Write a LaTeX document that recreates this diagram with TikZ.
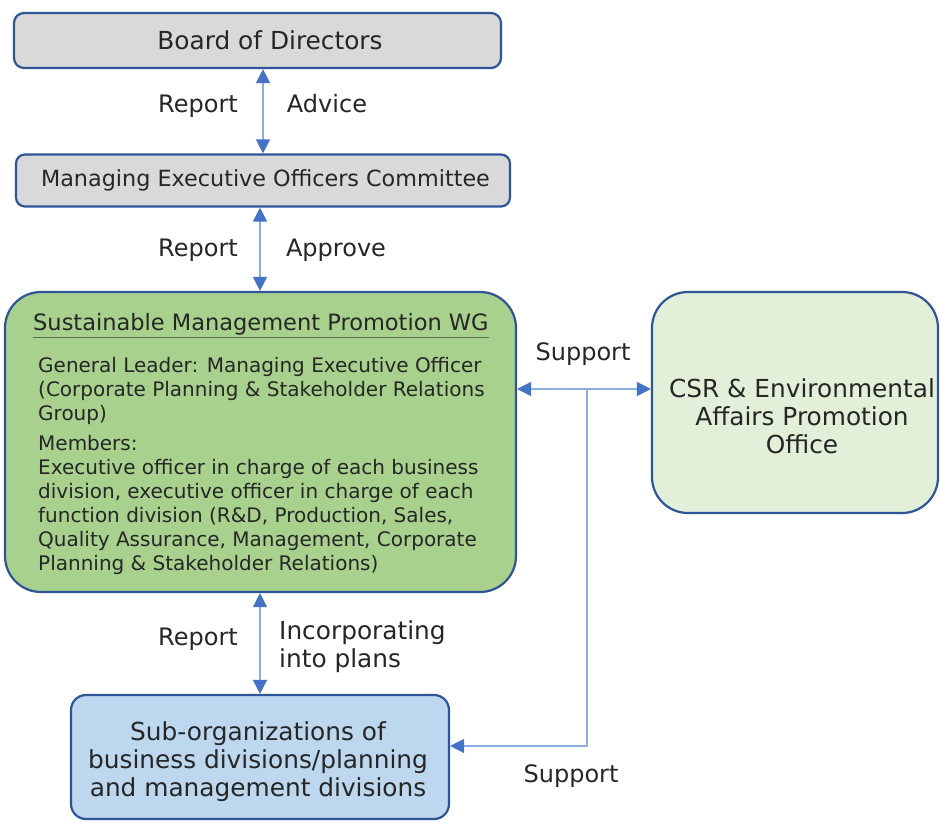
\documentclass[tikz,border=0pt]{standalone}
\usepackage{fontspec}
\setmainfont{DejaVu Sans}
\usetikzlibrary{arrows.meta}
\definecolor{bord}{HTML}{2F5597}
\definecolor{grayf}{HTML}{D9D9D9}
\definecolor{greenf}{HTML}{A9D18E}
\definecolor{lgreenf}{HTML}{E2F0D9}
\definecolor{bluef}{HTML}{BDD7EE}
\definecolor{lineblue}{HTML}{8AAEE3}
\definecolor{headblue}{HTML}{4472C4}
\definecolor{txt}{HTML}{262626}
\definecolor{ulcol}{HTML}{5B6B4E}
\tikzset{
  box/.style={draw=bord, line width=2.2pt, text=txt, inner sep=0pt},
  conn/.style={draw=lineblue, line width=1.4pt},
  biarr/.style={conn, {Triangle[length=14pt,width=14pt,color=headblue,fill=headblue]}-{Triangle[length=14pt,width=14pt,color=headblue,fill=headblue]}},
  onearr/.style={conn, -{Triangle[length=14pt,width=14pt,color=headblue,fill=headblue]}},
  lbl/.style={text=txt, inner sep=0pt, font=\fontsize{24}{28.5}\selectfont},
  body/.style={text=txt, inner sep=0pt, anchor=base west, font=\fontsize{20}{24}\selectfont},
}
\begin{document}
\begin{tikzpicture}[x=1pt,y=-1pt]
\useasboundingbox[fill=white] (0,0) rectangle (940,821);

% boxes
\node[box, fill=grayf, rounded corners=10pt, minimum width=487pt, minimum height=55pt,
      font=\fontsize{24.8}{28}\selectfont] (bod) at (257.5,40.5) {\hspace*{25pt}Board of Directors};
\node[box, fill=grayf, rounded corners=9pt, minimum width=494pt, minimum height=52pt,
      font=\fontsize{22.3}{26}\selectfont] (mec) at (263,180.5) {\hspace*{5pt}\raisebox{-2pt}{Managing Executive Officers Committee}};
\node[box, fill=greenf, rounded corners=36pt, minimum width=511pt, minimum height=300pt] (wg) at (260.5,442) {};
\node[box, fill=lgreenf, rounded corners=36pt, minimum width=286pt, minimum height=221pt] (csr) at (795,402.5) {};
\node[box, fill=bluef, rounded corners=15pt, minimum width=378pt, minimum height=124pt] (sub) at (260,757) {};

% texts in boxes
\node[body, font=\fontsize{22.5}{26}\selectfont] (wgt) at (33,330) {Sustainable Management Promotion WG};
\draw[ulcol, line width=1.2pt] ([yshift=-7.5pt]wgt.base west) -- ([yshift=-7.5pt]wgt.base east);
\node[body] (g1) at (38,372) {General Leader: Managing Executive Officer};
\node[body] (g2) at (38,396) {(Corporate Planning \& Stakeholder Relations};
\node[body] (g3) at (38,420) {Group)};
\node[body] (g4) at (38,450) {Members:};
\node[body] (g5) at (38,474) {Executive officer in charge of each business};
\node[body] (g6) at (38,498) {division, executive officer in charge of each};
\node[body] (g7) at (38,522) {function division (R\&D, Production, Sales,};
\node[body] (g8) at (38,546) {Quality Assurance, Management, Corporate};
\node[body] (g9) at (38,570) {Planning \& Stakeholder Relations)};

\node[lbl, anchor=base, font=\fontsize{24.8}{28}\selectfont] (c1) at (802,397) {CSR \& Environmental};
\node[lbl, anchor=base, font=\fontsize{24.8}{28}\selectfont] (c2) at (802,425) {Affairs Promotion};
\node[lbl, anchor=base, font=\fontsize{24.8}{28}\selectfont] (c3) at (802,453) {Office};

\node[lbl, anchor=base, font=\fontsize{24.8}{28}\selectfont] (s1) at (258,740) {Sub-organizations of};
\node[lbl, anchor=base, font=\fontsize{24.8}{28}\selectfont] (s2) at (258,768) {business divisions/planning};
\node[lbl, anchor=base, font=\fontsize{24.8}{28}\selectfont] (s3) at (258,796) {and management divisions};

% connectors
\coordinate (xa) at (263,0);
\coordinate (xb) at (260,0);
\draw[biarr] (xa |- bod.south) -- (xa |- mec.north);
\draw[biarr] (xb |- mec.south) -- (xb |- wg.north);
\draw[biarr] (xb |- wg.south) -- (xb |- sub.north);
\coordinate (sj) at (587,389);
\coordinate (sk) at (587,746);
\draw[biarr] (sj -| wg.east) -- (sj -| csr.west);
\draw[onearr] (sj) -- (sk) -- (sk -| sub.east);

% labels
\node[lbl, anchor=base] (r1) at (198,113) {Report};
\node[lbl, anchor=base] (a1) at (327,113) {Advice};
\node[lbl, anchor=base] (r2) at (198,257) {Report};
\node[lbl, anchor=base] (a2) at (336,257) {Approve};
\node[lbl, anchor=base] (sp1) at (583,360) {Support};
\node[lbl, anchor=base] (r3) at (198,645) {Report};
\node[lbl, anchor=base west, font=\fontsize{24.8}{28}\selectfont] (i1) at (279,639) {Incorporating};
\node[lbl, anchor=base west, font=\fontsize{24.8}{28}\selectfont] (i2) at (279,667) {into plans};
\node[lbl, anchor=base] (sp2) at (571,782) {Support};
\end{tikzpicture}
\end{document}
